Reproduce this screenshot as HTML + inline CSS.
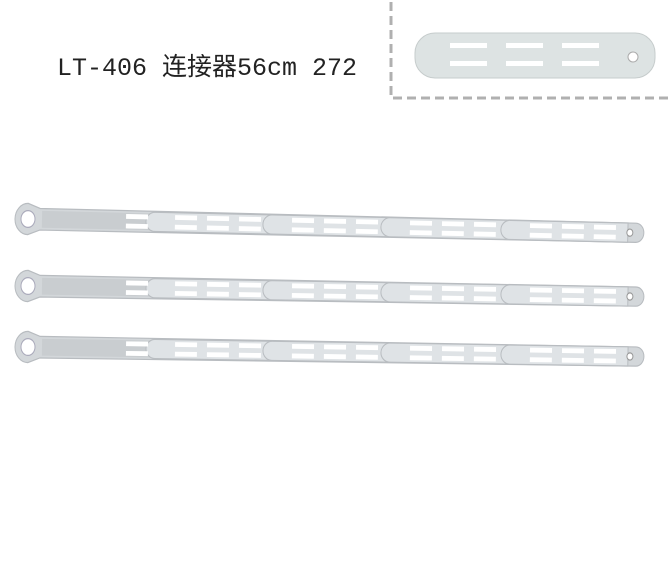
<!DOCTYPE html>
<html><head><meta charset="utf-8"><style>
html,body{margin:0;padding:0;background:#fff;width:670px;height:582px;overflow:hidden}
</style></head><body>
<svg width="670" height="582" xmlns="http://www.w3.org/2000/svg">
<defs>
<g id="strip">
  <path d="M28,-13 A13,13 0 0 0 28,13 L40,9 L636,8 A8,8 0 0 0 636,-8 L40,-9 Z" fill="#d3d7da" stroke="#b8bcc0" stroke-width="1"/>
  <rect x="42" y="-7" width="108" height="14" fill="#c9cdd0"/>
  <circle cx="28" cy="0" r="7" fill="#fff" stroke="#aab" stroke-width="1"/>
  <g fill="#dfe3e6" stroke="#b9bdc1" stroke-width="1">
    <path d="M155,-8 h116 v16 h-116 a9,8 0 0 1 0,-16z"/>
    <path d="M272,-8 h116 v16 h-116 a9,8 0 0 1 0,-16z"/>
    <path d="M390,-8 h118 v16 h-118 a9,8 0 0 1 0,-16z"/>
    <path d="M510,-8 h118 v16 h-118 a9,8 0 0 1 0,-16z"/>
  </g>
  <g fill="#fff">
    <rect x="126" y="-6" width="22" height="4"/><rect x="126" y="2" width="22" height="4"/>
    <rect x="175" y="-6" width="22" height="4"/><rect x="175" y="2" width="22" height="4"/>
    <rect x="207" y="-6" width="22" height="4"/><rect x="207" y="2" width="22" height="4"/>
    <rect x="239" y="-6" width="22" height="4"/><rect x="239" y="2" width="22" height="4"/>
    <rect x="292" y="-6" width="22" height="4"/><rect x="292" y="2" width="22" height="4"/>
    <rect x="324" y="-6" width="22" height="4"/><rect x="324" y="2" width="22" height="4"/>
    <rect x="356" y="-6" width="22" height="4"/><rect x="356" y="2" width="22" height="4"/>
    <rect x="410" y="-6" width="22" height="4"/><rect x="410" y="2" width="22" height="4"/>
    <rect x="442" y="-6" width="22" height="4"/><rect x="442" y="2" width="22" height="4"/>
    <rect x="474" y="-6" width="22" height="4"/><rect x="474" y="2" width="22" height="4"/>
    <rect x="530" y="-6" width="22" height="4"/><rect x="530" y="2" width="22" height="4"/>
    <rect x="562" y="-6" width="22" height="4"/><rect x="562" y="2" width="22" height="4"/>
    <rect x="594" y="-6" width="22" height="4"/><rect x="594" y="2" width="22" height="4"/>
  </g>
  <circle cx="630" cy="0" r="3" fill="#fff" stroke="#999" stroke-width="1"/>
</g>
</defs>
<g transform="translate(0,219) rotate(1.3 28 0) scale(1,1.2)"><use href="#strip"/></g>
<g transform="translate(0,286) rotate(1.0 28 0) scale(1,1.2)"><use href="#strip"/></g>
<g transform="translate(0,347) rotate(0.9 28 0) scale(1,1.2)"><use href="#strip"/></g>

<text x="57" y="75" font-family="'Liberation Mono','Noto Sans CJK SC',monospace" font-size="25" fill="#222" textLength="300" lengthAdjust="spacingAndGlyphs">LT-406 连接器56cm 272</text>

<path d="M391,2 V98 H670" fill="none" stroke="#b0b0b0" stroke-width="3" stroke-dasharray="9,5"/>
<rect x="415" y="33" width="240" height="45" rx="20" fill="#dde3e3" stroke="#c6cccc"/>
<g fill="#fff">
  <rect x="450" y="43" width="37" height="5"/><rect x="450" y="61" width="37" height="5"/>
  <rect x="506" y="43" width="37" height="5"/><rect x="506" y="61" width="37" height="5"/>
  <rect x="562" y="43" width="37" height="5"/><rect x="562" y="61" width="37" height="5"/>
</g>
<circle cx="633" cy="57" r="5" fill="#fff" stroke="#aaa"/>
</svg>
</body></html>
